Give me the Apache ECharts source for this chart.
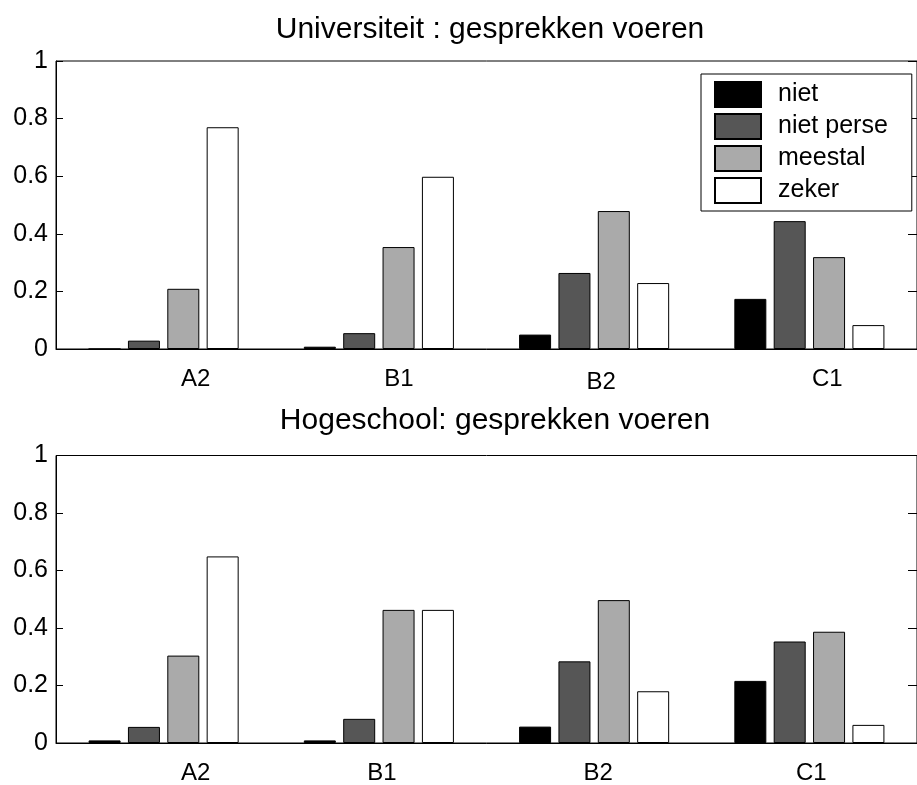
<!DOCTYPE html>
<html>
<head>
<meta charset="utf-8">
<script src="https://cdn.jsdelivr.net/npm/echarts@6/dist/echarts.min.js"></script>
<style>
  html, body { margin: 0; padding: 0; background: #fff; }
  #chart { width: 917px; height: 785px; }
</style>
</head>
<body>
<div id="chart"></div>
<script>
// ---- data ----
const categories = ['A2', 'B1', 'B2', 'C1'];
const seriesNames = ['niet', 'niet perse', 'meestal', 'zeker'];
const titleTop = 'Universiteit : gesprekken voeren';
const titleBottom = 'Hogeschool: gesprekken voeren';

const uniNiet      = [0.000, 0.008, 0.050, 0.174];
const uniNietPerse = [0.029, 0.055, 0.264, 0.444];
const uniMeestal   = [0.209, 0.354, 0.479, 0.319];
const uniZeker     = [0.770, 0.598, 0.229, 0.083];

const hsNiet      = [0.009, 0.009, 0.057, 0.216];
const hsNietPerse = [0.056, 0.084, 0.284, 0.353];
const hsMeestal   = [0.304, 0.463, 0.497, 0.387];
const hsZeker     = [0.649, 0.463, 0.180, 0.063];

// ---- styling ----
const FONT = 'Liberation Sans';
const colors = ['#000000', '#565656', '#aaaaaa', '#ffffff'];
// per-label horizontal shifts / vertical shifts (styling only)
const topShift = [32, 20, 7, 18];
const topDown = [0, 0, 3, 0];
const botShift = [32, 3, 4, 2];
const botDown = [0, 0, 0, 0];

function richFor(shift, down) {
  const r = {};
  shift.forEach((s, i) => {
    r['c' + i] = {
      fontFamily: FONT, fontSize: 24, color: '#000',
      padding: [down[i], 0, 0, 2 * s]
    };
  });
  return r;
}

const gridTop = { left: 56, top: 61, width: 868, height: 288, show: true, borderColor: '#000', borderWidth: 1 };
const gridBot = { left: 56, top: 455.5, width: 868, height: 290, show: true, borderColor: '#000', borderWidth: 1 };

function xAxisFor(gi, shift, down) {
  return {
    type: 'category', gridIndex: gi, data: categories,
    axisLine: { show: true, lineStyle: { color: '#000', width: 1 } },
    axisTick: { show: false },
    axisLabel: {
      margin: 18,
      formatter: (v, i) => '{c' + i + '|' + v + '}',
      rich: richFor(shift, down)
    }
  };
}
function yLeft(gi) {
  return {
    type: 'value', gridIndex: gi, min: 0, max: 1, interval: 0.2, position: 'left',
    axisLine: { show: true, lineStyle: { color: '#000', width: 1 } },
    axisTick: { show: true, inside: true, length: 7, lineStyle: { color: '#000' } },
    splitLine: { show: false },
    axisLabel: { fontFamily: FONT, fontSize: 25, color: '#000', margin: 8 }
  };
}
function yRight(gi) {
  return {
    type: 'value', gridIndex: gi, min: 0, max: 1, interval: 0.2, position: 'right',
    axisLine: { show: false },
    axisTick: { show: true, inside: true, length: 9, lineStyle: { color: '#000' } },
    splitLine: { show: false },
    axisLabel: { show: false }
  };
}

const topData = [uniNiet, uniNietPerse, uniMeestal, uniZeker];
const botData = [hsNiet, hsNietPerse, hsMeestal, hsZeker];

function barSeries(data, xi, yi) {
  return data.map((arr, k) => ({
    name: seriesNames[k], type: 'bar', xAxisIndex: xi, yAxisIndex: yi,
    data: arr, barWidth: 32, barGap: '23%',
    itemStyle: { color: colors[k], borderColor: '#000', borderWidth: 1 },
    animation: false
  }));
}

const option = {
  animation: false,
  backgroundColor: '#fff',
  title: [
    { text: titleTop, left: 490, top: 15, textAlign: 'center', padding: 0,
      textStyle: { fontFamily: FONT, fontSize: 30, fontWeight: 'normal', color: '#000' } },
    { text: titleBottom, left: 495, top: 406, textAlign: 'center', padding: 0,
      textStyle: { fontFamily: FONT, fontSize: 30, fontWeight: 'normal', color: '#000' } }
  ],
  legend: {
    data: seriesNames, orient: 'vertical', left: 701, top: 74,
    padding: [7, 24, 7, 13], itemGap: 5, itemWidth: 46, itemHeight: 25,
    icon: 'rect', borderColor: '#000', borderWidth: 1, backgroundColor: '#fff',
    textStyle: { fontFamily: FONT, fontSize: 25, lineHeight: 25, color: '#000', padding: [0, 0, 0, 12] },
    selectedMode: false
  },
  grid: [gridTop, gridBot],
  xAxis: [xAxisFor(0, topShift, topDown), xAxisFor(1, botShift, botDown)],
  yAxis: [yLeft(0), yRight(0), yLeft(1), yRight(1)],
  series: [].concat(barSeries(topData, 0, 0), barSeries(botData, 1, 2))
};

const chart = echarts.init(document.getElementById('chart'), null, { renderer: 'canvas' });
chart.setOption(option);
</script>
</body>
</html>
